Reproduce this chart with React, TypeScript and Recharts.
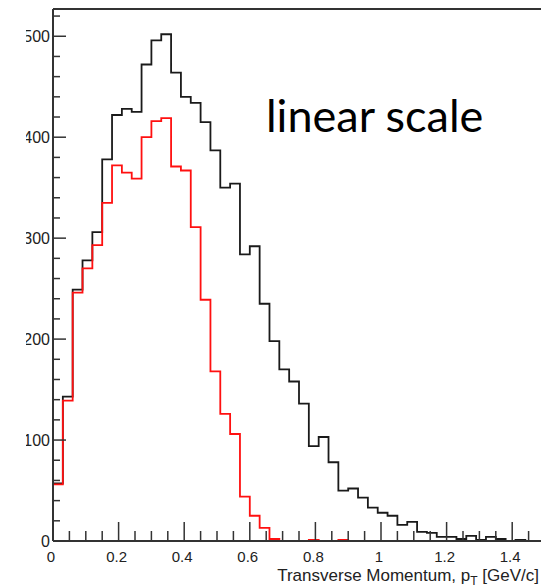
import { Line, LineChart, ReferenceLine, XAxis, YAxis } from "recharts";

// 50 bins of 0.03 GeV/c from 0 to 1.5
const BIN_WIDTH = 0.03;

const ALL_TRACKS = [
  57, 143, 249, 278, 306, 378, 422, 428, 425, 472,
  496, 502, 464, 440, 434, 415, 387, 350, 354, 284,
  292, 235, 198, 170, 158, 136, 94, 103, 78, 50,
  52, 43, 33, 28, 25, 16, 19, 9, 8, 4,
  4, 2, 5, 1, 4, 2, 0, 1, 0, 0,
];

const SELECTED = [
  56, 139, 246, 270, 293, 335, 372, 365, 359, 400,
  416, 419, 371, 367, 311, 239, 168, 126, 106, 44,
  25, 13, 2, 0, 0, 0, 1, 0, 0, 1,
  0, 0, 0, 0, 0, 0, 0, 0, 0, 0,
  0, 0, 0, 0, 0, 0, 0, 0, 0, 0,
];

const X_TICKS = [
  0, 0.05, 0.1, 0.15, 0.2, 0.25, 0.3, 0.35, 0.4, 0.45, 0.5, 0.55, 0.6, 0.65, 0.7, 0.75,
  0.8, 0.85, 0.9, 0.95, 1, 1.05, 1.1, 1.15, 1.2, 1.25, 1.3, 1.35, 1.4, 1.45, 1.5,
];
const X_MAJOR = [0, 0.2, 0.4, 0.6, 0.8, 1, 1.2, 1.4];

const Y_TICKS = [
  0, 20, 40, 60, 80, 100, 120, 140, 160, 180, 200, 220, 240, 260, 280, 300,
  320, 340, 360, 380, 400, 420, 440, 460, 480, 500, 520,
];
const Y_MAX = 527;

const FRAME = "#333";
const TICK_FONT = "'Liberation Sans', Arial, sans-serif";

const rows = ALL_TRACKS.map((v, i) => ({ x: i * BIN_WIDTH, all: v, sel: SELECTED[i] }));
rows.push({
  x: ALL_TRACKS.length * BIN_WIDTH,
  all: ALL_TRACKS[ALL_TRACKS.length - 1],
  sel: SELECTED[SELECTED.length - 1],
});

function XTick(props: any) {
  const { x, y, payload } = props;
  const major = X_MAJOR.includes(payload.value);
  return (
    <g>
      <line x1={x} x2={x} y1={y} y2={y - (major ? 19 : 10)} stroke={FRAME} strokeWidth={1.5} />
      {major && (
        <text x={x - 2} y={y + 21} textAnchor="middle" fontSize={15} fontFamily={TICK_FONT} fill="#222">
          {payload.value}
        </text>
      )}
    </g>
  );
}

function YTick(props: any) {
  const { x, y, payload } = props;
  const major = payload.value % 100 === 0;
  return (
    <g>
      <line x1={x} x2={x + (major ? 13 : 7)} y1={y} y2={y} stroke={FRAME} strokeWidth={1.5} />
      {major && (
        <text x={x - 3} y={y + 5.5} textAnchor="end" fontSize={16} fontFamily={TICK_FONT} fill="#222">
          {payload.value}
        </text>
      )}
    </g>
  );
}

function AxisTitle(props: any) {
  const { viewBox } = props;
  return (
    <text
      x={viewBox.x + viewBox.width - 6}
      y={viewBox.y + 40}
      textAnchor="end"
      fontSize={17}
      fontFamily={TICK_FONT}
      fill="#222"
    >
      Transverse Momentum, p
      <tspan fontSize={12} dy={4}>T</tspan>
      <tspan dy={-4}> [GeV/c]</tspan>
    </text>
  );
}

export default function App() {
  return (
    <div
      style={{
        position: "fixed",
        left: 0,
        top: 0,
        width: 541,
        height: 587,
        overflow: "hidden",
        background: "#fff",
      }}
    >
      <LineChart width={560} height={587} data={rows} margin={{ top: 9, right: 15, bottom: 0, left: 0 }}>
        <XAxis
          dataKey="x"
          type="number"
          domain={[0, 1.5]}
          ticks={X_TICKS}
          interval={0}
          tickSize={0}
          tickMargin={0}
          tickLine={false}
          tick={<XTick />}
          axisLine={{ stroke: FRAME, strokeWidth: 2 }}
          height={46}
          allowDataOverflow
          label={{ content: <AxisTitle /> }}
        />
        <YAxis
          type="number"
          domain={[0, Y_MAX]}
          ticks={Y_TICKS}
          interval={0}
          tickSize={0}
          tickMargin={0}
          tickLine={false}
          tick={<YTick />}
          axisLine={{ stroke: FRAME, strokeWidth: 2 }}
          width={53}
          allowDataOverflow
        />
        <ReferenceLine y={Y_MAX} stroke={FRAME} strokeWidth={2} />
        <ReferenceLine x={1.5} stroke={FRAME} strokeWidth={2} />
        <Line
          type="stepAfter"
          dataKey="all"
          stroke="#1a1a1a"
          strokeWidth={1.8}
          dot={false}
          isAnimationActive={false}
        />
        <Line
          type="stepAfter"
          dataKey="sel"
          stroke="#ff1010"
          strokeWidth={1.8}
          dot={false}
          isAnimationActive={false}
        />
      </LineChart>
      <div style={{ position: "absolute", left: 0, top: 0, width: 26, height: 550, background: "#fff" }} />
      <svg
        width={541}
        height={587}
        style={{ position: "absolute", left: 0, top: 0, pointerEvents: "none" }}
      >
        <text x={266} y={132} fontSize={45} fontFamily="Lato, 'Open Sans', sans-serif" fill="#000">
          linear scale
        </text>
      </svg>
    </div>
  );
}
